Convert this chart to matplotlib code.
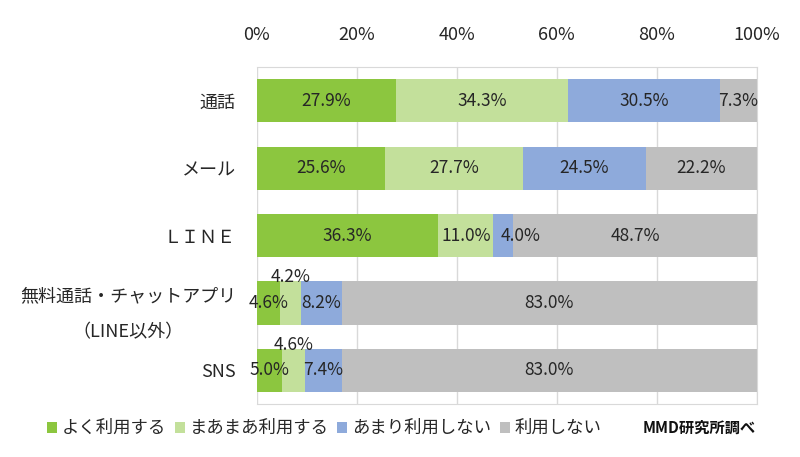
import matplotlib
matplotlib.use("Agg")
import matplotlib.pyplot as plt
import numpy as np

plt.rcParams["font.family"] = ["Noto Sans CJK JP", "DejaVu Sans"]

categories = ["通話", "メール", "ＬＩＮＥ", "無料通話・チャットアプリ\n（LINE以外）", "SNS"]
series_names = ["よく利用する", "まあまあ利用する", "あまり利用しない", "利用しない"]
often = [27.9, 25.6, 36.3, 4.6, 5.0]
sometimes = [34.3, 27.7, 11.0, 4.2, 4.6]
rarely = [30.5, 24.5, 4.0, 8.2, 7.4]
never = [7.3, 22.2, 48.7, 83.0, 83.0]
x_ticks = [0, 20, 40, 60, 80, 100]

colors = ["#8cc63f", "#c3e09b", "#8eaadb", "#bfbfbf"]
text_color = "#262626"

fig = plt.figure(figsize=(8, 4.57), dpi=100)
ax = fig.add_axes([0.321, 0.116, 0.625, 0.737])

y = np.arange(len(categories))
series = [often, sometimes, rarely, never]
left = np.zeros(len(categories))
bar_h = 0.64

for vals, color, name in zip(series, colors, series_names):
    vals = np.array(vals)
    ax.barh(y, vals, left=left, height=bar_h, color=color, label=name, zorder=2)
    for i, v in enumerate(vals):
        cx = left[i] + v / 2
        cy = y[i]
        # small segments in the last rows: labels were moved by hand
        if name == "まあまあ利用する" and i >= 3:
            cy = y[i] - 0.38
        if name == "あまり利用しない" and i == 2:
            cx += 3.4
        ax.text(cx, cy, f"{v:.1f}%", ha="center", va="center",
                fontsize=12.5, color=text_color, zorder=3)
    left += vals

ax.set_xlim(0, 100)
ax.set_ylim(len(categories) - 0.5, -0.5)
ax.set_xticks(x_ticks)
ax.set_xticklabels([f"{t}%" for t in x_ticks])
ax.xaxis.tick_top()
ax.tick_params(axis="x", length=0, pad=17, labelsize=13, colors=text_color)
ax.set_yticks(y)
ax.set_yticklabels(categories)
ax.tick_params(axis="y", length=0, pad=15, labelsize=13, colors=text_color)
for lab in ax.get_yticklabels():
    lab.set_multialignment("center")
    lab.set_linespacing(2.3)

ax.grid(axis="x", color="#d9d9d9", linewidth=1, zorder=0)
for s in ax.spines.values():
    s.set_color("#d9d9d9")
ax.spines["left"].set_visible(False)

fig.legend(loc="center left", bbox_to_anchor=(0.05, 0.063), ncol=4,
           frameon=False, fontsize=12.5, handlelength=0.6, handleheight=0.6,
           handletextpad=0.25, columnspacing=0.5, borderaxespad=0)
for t in fig.legends[0].get_texts():
    t.set_color(text_color)

fig.text(0.945, 0.063, "MMD研究所調べ", ha="right", va="center",
         fontsize=11, fontweight="bold", color="#111111")

fig.savefig("out.png", dpi=100)
